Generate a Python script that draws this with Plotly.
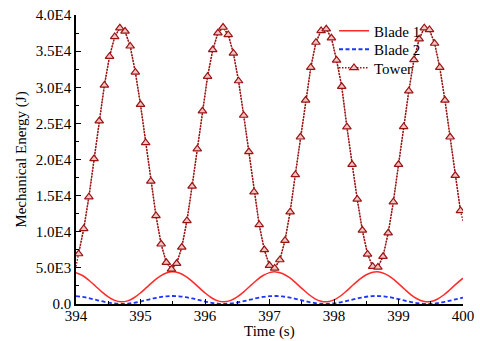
import plotly.graph_objects as go

# ---- data ----
time_blade = [394.0, 394.1, 394.2, 394.3, 394.4, 394.5, 394.6, 394.7, 394.8, 394.9,
              395.0, 395.1, 395.2, 395.3, 395.4, 395.5, 395.6, 395.7, 395.8, 395.9,
              396.0, 396.1, 396.2, 396.3, 396.4, 396.5, 396.6, 396.7, 396.8, 396.9,
              397.0, 397.1, 397.2, 397.3, 397.4, 397.5, 397.6, 397.7, 397.8, 397.9,
              398.0, 398.1, 398.2, 398.3, 398.4, 398.5, 398.6, 398.7, 398.8, 398.9,
              399.0, 399.1, 399.2, 399.3, 399.4, 399.5, 399.6, 399.7, 399.8, 399.9,
              400.0]

blade1 = [4346, 3942, 3290, 2498, 1686, 981, 495, 302, 431, 864,
          1535, 2336, 3139, 3828, 4288, 4450, 4288, 3828, 3139, 2336,
          1535, 864, 431, 302, 495, 985, 1686, 2498, 3290, 3942,
          4346, 4443, 4219, 3705, 2985, 2170, 1385, 755, 379, 315,
          570, 1109, 1846, 2664, 3437, 4045, 4392, 4424, 4137, 3574,
          2823, 2004, 1242, 659, 342, 342, 659, 1244, 2008, 2827,
          3574]

blade2 = [1083, 976, 805, 597, 384, 199, 71, 21, 54, 168,
          344, 555, 766, 947, 1067, 1110, 1067, 947, 766, 555,
          344, 168, 54, 21, 71, 200, 384, 597, 805, 976,
          1083, 1108, 1050, 914, 725, 511, 305, 139, 41, 24,
          91, 233, 426, 641, 844, 1004, 1095, 1103, 1028, 880,
          683, 467, 267, 114, 31, 31, 114, 268, 469, 684,
          880]

time_tower = [394.04, 394.12, 394.20, 394.28, 394.36, 394.44, 394.52, 394.60, 394.68, 394.76,
              394.84, 394.92, 395.00, 395.08, 395.16, 395.24, 395.32, 395.40, 395.48, 395.56,
              395.64, 395.72, 395.80, 395.88, 395.96, 396.04, 396.12, 396.20, 396.28, 396.36,
              396.44, 396.52, 396.60, 396.68, 396.76, 396.84, 396.92, 397.00, 397.08, 397.16,
              397.24, 397.32, 397.40, 397.48, 397.56, 397.64, 397.72, 397.80, 397.88, 397.96,
              398.04, 398.12, 398.20, 398.28, 398.36, 398.44, 398.52, 398.60, 398.68, 398.76,
              398.84, 398.92, 399.00, 399.08, 399.16, 399.24, 399.32, 399.40, 399.48, 399.56,
              399.64, 399.72, 399.80, 399.88, 399.96]

tower = [6940, 10420, 14820, 20100, 25320, 30280, 34260, 36990, 38190, 37740,
         35690, 32080, 27600, 22320, 16990, 12220, 8290, 5740, 4820, 5600,
         7850, 11530, 16290, 21460, 26710, 31490, 35180, 37500, 38290, 37270,
         34720, 30880, 26110, 21070, 15510, 10970, 7500, 5320, 4960, 6110,
         8790, 12740, 17900, 23100, 28200, 32740, 36210, 37820, 38060, 36810,
         33750, 30100, 24500, 19300, 14500, 10200, 6900, 5200, 5100, 6570,
         9820, 14130, 19300, 24540, 29490, 33800, 36670, 38200, 37960, 36070,
         32740, 28200, 23100, 17780, 12920]

# end points of the tower line (no marker drawn there)
tower_start = [394.00, 5200]
tower_end = [400.00, 11500]

x_ticks = [394, 395, 396, 397, 398, 399, 400]
y_ticks = [0, 5000, 10000, 15000, 20000, 25000, 30000, 35000, 40000]
y_ticktext = ["0.0", "5.0E3", "1.0E4", "1.5E4", "2.0E4", "2.5E4", "3.0E4", "3.5E4", "4.0E4"]
x_title = "Time (s)"
y_title = "Mechanical Energy (J)"

FONT = "'Liberation Serif', 'Times New Roman', Tinos, serif"
TOWER_COLOR = "#9a1414"

fig = go.Figure()

fig.add_trace(go.Scatter(
    x=time_blade, y=blade1, mode="lines", name="Blade 1", legend="legend",
    line=dict(color="#ff2a2a", width=1.5, shape="spline"),
))
fig.add_trace(go.Scatter(
    x=time_blade, y=blade2, mode="lines", name="Blade 2", legend="legend2",
    line=dict(color="#1f35ff", width=1.8, dash="4px,2.5px", shape="spline"),
))
# full tower line including the end points
fig.add_trace(go.Scatter(
    x=[tower_start[0]] + time_tower + [tower_end[0]],
    y=[tower_start[1]] + tower + [tower_end[1]],
    mode="lines", showlegend=False,
    line=dict(color=TOWER_COLOR, width=1.4, dash="1.5px,1.5px"),
))
fig.add_trace(go.Scatter(
    x=time_tower, y=tower, mode="lines+markers", name="Tower", legend="legend3",
    line=dict(color=TOWER_COLOR, width=1.4, dash="1.5px,1.5px"),
    marker=dict(symbol="triangle-up", size=7.5, color="#f3c4c4",
                line=dict(color=TOWER_COLOR, width=1.2)),
))

PLOT_L, PLOT_R, PLOT_T, PLOT_B = 76, 17, 15, 37
pw = 480 - PLOT_L - PLOT_R
ph = 341 - PLOT_T - PLOT_B


def px_to_paper(px_x, px_y):
    return (px_x - PLOT_L) / pw, 1 - (px_y - PLOT_T) / ph


legend_common = dict(xanchor="left", yanchor="middle", bgcolor="rgba(0,0,0,0)",
                     borderwidth=0, font=dict(family=FONT, size=15, color="black"))
lx1, ly1 = px_to_paper(334, 31)
lx2, ly2 = px_to_paper(334, 49.5)
lx3, ly3 = px_to_paper(334, 68)
_, xt_y = px_to_paper(0, 341)

fig.update_layout(
    width=480, height=341, autosize=False,
    margin=dict(l=PLOT_L, r=PLOT_R, t=PLOT_T, b=PLOT_B, autoexpand=False, pad=0),
    paper_bgcolor="white", plot_bgcolor="white",
    font=dict(family=FONT, size=15, color="black"),
    showlegend=True,
    legend=dict(x=lx1, y=ly1, **legend_common),
    legend2=dict(x=lx2, y=ly2, **legend_common),
    legend3=dict(x=lx3, y=ly3, **legend_common),
    annotations=[dict(text=x_title, xref="paper", yref="paper", x=0.5, y=xt_y,
                      xanchor="center", yanchor="bottom", showarrow=False, borderpad=0,
                      font=dict(family=FONT, size=15, color="black"))],
)

fig.update_xaxes(
    range=[394, 400], tickmode="array", tickvals=x_ticks,
    ticktext=[str(v) for v in x_ticks], automargin=False,
    showline=True, linecolor="black", linewidth=1.5, mirror=False,
    ticks="inside", ticklen=5, tickwidth=1.2, tickcolor="black",
    minor=dict(ticks="inside", ticklen=3, tickwidth=1, tickcolor="black", dtick=0.5, tick0=394),
    showgrid=False, zeroline=False, ticklabelstandoff=-3,
    tickfont=dict(family=FONT, size=15),
)
fig.update_yaxes(
    range=[0, 40000], tickmode="array", tickvals=y_ticks, ticktext=y_ticktext,
    automargin=False,
    showline=True, linecolor="black", linewidth=1.5, mirror=False,
    ticks="inside", ticklen=5, tickwidth=1.2, tickcolor="black",
    minor=dict(ticks="inside", ticklen=3, tickwidth=1, tickcolor="black", dtick=2500, tick0=0),
    showgrid=False, zeroline=False,
    tickfont=dict(family=FONT, size=15),
    title=dict(text=y_title, font=dict(family=FONT, size=15), standoff=6),
)

fig.write_html("out.html")
